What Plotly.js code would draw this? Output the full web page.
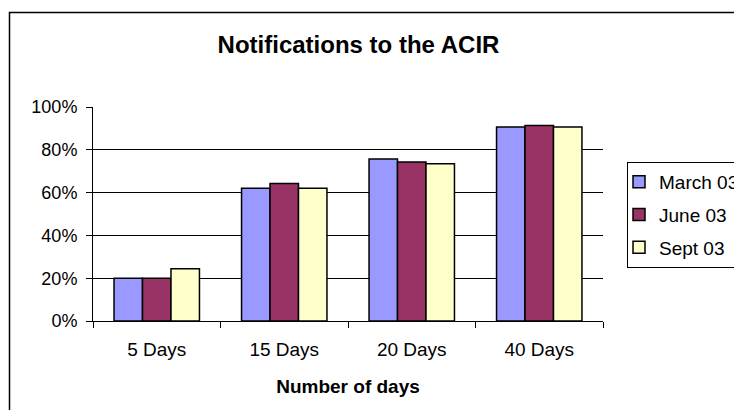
<!DOCTYPE html>
<html>
<head>
<meta charset="utf-8">
<script src="https://cdn.plot.ly/plotly-3.0.1.min.js"></script>
<style>html,body{margin:0;padding:0;background:#fff;}#chart{width:734px;height:410px;}</style>
</head>
<body>
<div id="chart"></div>
<script>
var categories = ["5 Days", "15 Days", "20 Days", "40 Days"];
var seriesNames = ["March 03", "June 03", "Sept 03"];
var march03 = [0.20, 0.62, 0.757, 0.906];
var june03 = [0.20, 0.642, 0.743, 0.913];
var sept03 = [0.244, 0.62, 0.735, 0.906];
var colors = ["#9999FF", "#993366", "#FFFFCC"];
var yTickVals = [0, 0.2, 0.4, 0.6, 0.8, 1.0];
var yTickText = ["0%", "20%", "40%", "60%", "80%", "100%"];

var seriesValues = [march03, june03, sept03];
var FONT = "Liberation Sans, Arial, sans-serif";
var traces = seriesValues.map(function (vals, i) {
  return {
    type: "bar",
    name: seriesNames[i],
    x: categories,
    y: vals,
    legendgroup: "g" + i,
    marker: { color: colors[i], line: { color: "#000000", width: 1.5 } },
    hoverinfo: "skip"
  };
});

var layout = {
  width: 734,
  height: 410,
  paper_bgcolor: "#ffffff",
  plot_bgcolor: "#ffffff",
  margin: { l: 93, r: 131, t: 107, b: 89, autoexpand: false },
  font: { family: FONT, size: 18, color: "#000000" },
  title: {
    text: "<b>Notifications to the ACIR</b>",
    font: { family: FONT, size: 24, color: "#000000" },
    xref: "container", yref: "container",
    x: 358.5 / 734, xanchor: "center",
    y: 1 - 45 / 410, yanchor: "middle"
  },
  barmode: "group",
  bargap: 0.33,
  bargroupgap: 0,
  showlegend: true,
  legend: {
    x: (627 - 93) / 510, xanchor: "left",
    y: (321 - 162) / 214, yanchor: "top",
    bgcolor: "#ffffff",
    bordercolor: "#000000",
    borderwidth: 1,
    font: { family: FONT, size: 19, color: "#000000" },
    traceorder: "grouped",
    tracegroupgap: 5,
    itemwidth: 30,
    indentation: -9
  },
  xaxis: {
    type: "category",
    showline: true, linecolor: "#000000", linewidth: 1,
    ticks: "outside", tickson: "boundaries", ticklen: 6, tickcolor: "#000000",
    showgrid: false,
    tickfont: { family: FONT, size: 19, color: "#000000" },
    ticklabelstandoff: 11,
    title: { text: "<b>Number of days</b>", font: { family: FONT, size: 19, color: "#000000" }, standoff: 20 },
    fixedrange: true
  },
  yaxis: {
    range: [0, 1.0],
    tickvals: yTickVals,
    ticktext: yTickText,
    showline: true, linecolor: "#000000", linewidth: 1,
    ticks: "outside", ticklen: 6, tickcolor: "#000000",
    showgrid: true, gridcolor: "#000000", gridwidth: 1,
    zeroline: false,
    tickfont: { family: FONT, size: 18, color: "#000000" },
    ticklabelstandoff: 5,
    fixedrange: true
  },
  shapes: [{
    type: "rect", xref: "paper", yref: "paper",
    x0: (9.5 - 93) / 510, x1: 1.6,
    y0: -0.6, y1: (321 - 12.5) / 214,
    line: { color: "#000000", width: 1.5 },
    fillcolor: "rgba(0,0,0,0)",
    layer: "below"
  }]
};

Plotly.newPlot("chart", traces, layout, { displayModeBar: false, staticPlot: true });
</script>
</body>
</html>
